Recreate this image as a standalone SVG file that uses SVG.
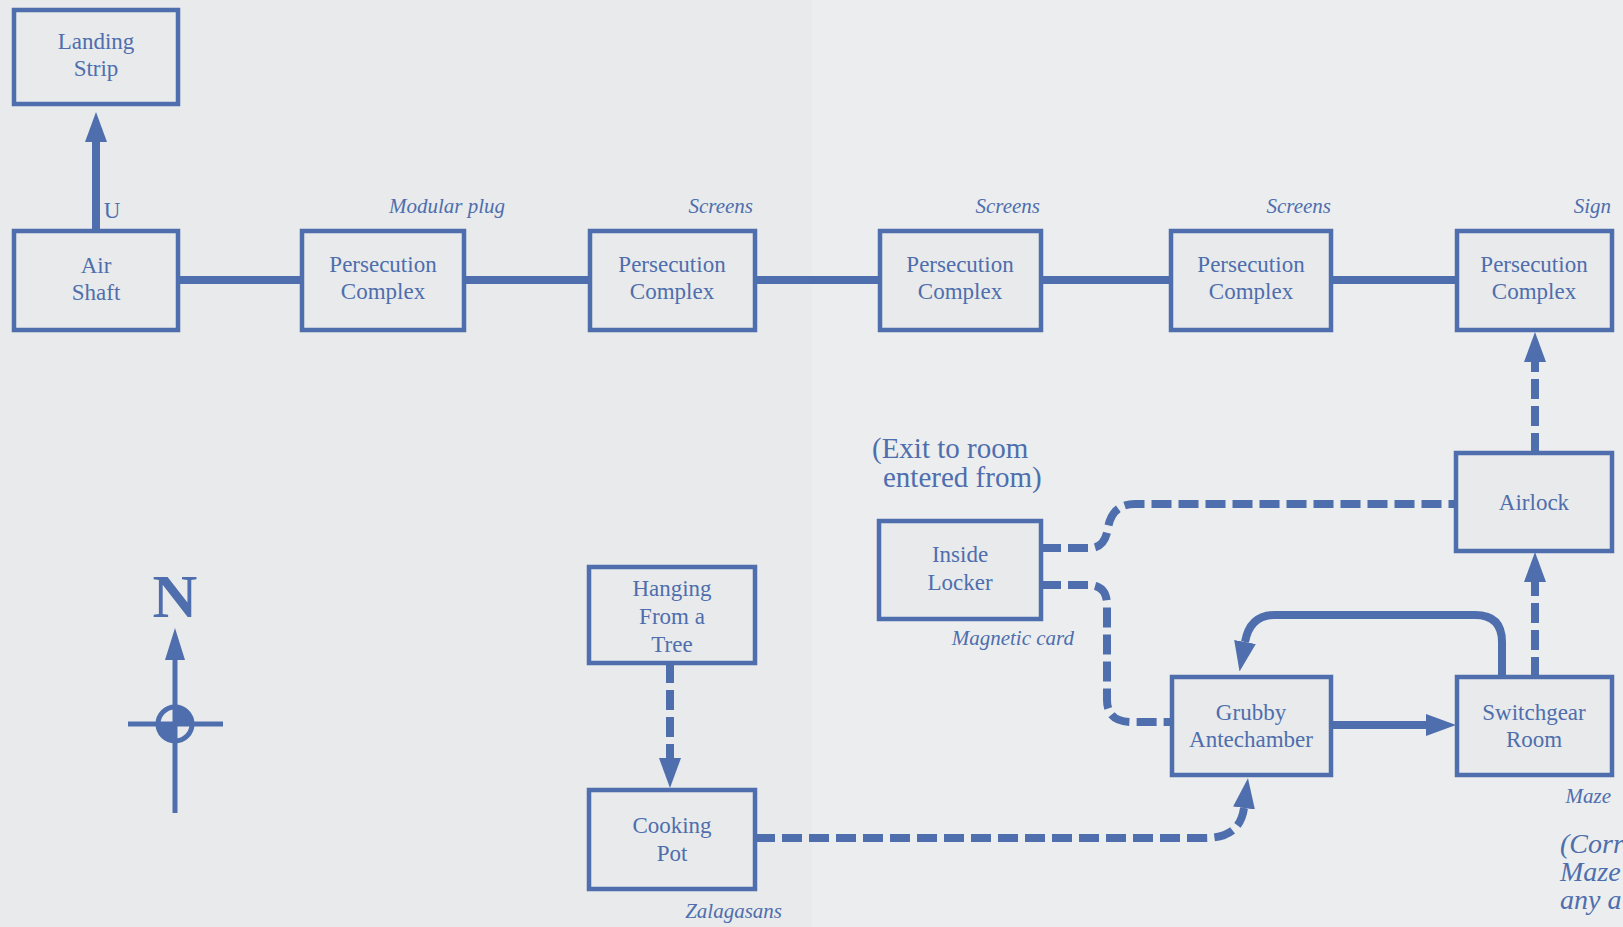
<svg xmlns="http://www.w3.org/2000/svg" width="1623" height="927" viewBox="0 0 1623 927">
<style>
.bx{fill:#e9eaeb;stroke:#4e6ead;stroke-width:4.5}
.t{font-family:"Liberation Serif","Times New Roman",serif;font-size:23px;fill:#4e6ead;text-anchor:middle}
.lb{font-family:"Liberation Serif","Times New Roman",serif;font-size:21px;font-style:italic;fill:#4e6ead;text-anchor:end}
.big{font-family:"Liberation Serif","Times New Roman",serif;font-size:29px;fill:#4e6ead}
.bigi{font-family:"Liberation Serif","Times New Roman",serif;font-size:28px;font-style:italic;fill:#4e6ead}
.s{fill:none;stroke:#4e6ead;stroke-width:8}
.d{fill:none;stroke:#4e6ead;stroke-width:8;stroke-dasharray:20 7}
</style>
<defs>
<marker id="arr" markerUnits="userSpaceOnUse" viewBox="0 0 30 22" refX="0" refY="11" markerWidth="30" markerHeight="22" orient="auto">
<path d="M0,0 L30,11 L0,22 Z" fill="#4e6ead"/>
</marker>
</defs>
<rect width="1623" height="927" fill="#e9eaeb"/>
<rect x="812" width="811" height="927" fill="#ecedee"/>

<g id="connectors">
<path class="s" d="M96,231 V142" marker-end="url(#arr)"/>
<path class="s" d="M178,280 H302 M464,280 H590 M755,280 H880 M1041,280 H1171 M1331,280 H1457"/>
<path class="d" d="M1535,453 V362" marker-end="url(#arr)"/>
<path class="d" d="M1535,677 V582" marker-end="url(#arr)"/>
<path class="d" d="M1041,548 H1090 Q1105,548 1108,528 Q1112,504 1135,504 H1456"/>
<path class="d" d="M1041,585 H1088 Q1107,585 1107,605 V700 Q1107,722 1132,722 H1172"/>
<path class="s" d="M1331,725 H1426" marker-end="url(#arr)"/>
<path class="s" d="M1502,677 V642 Q1502,615 1475,615 H1275 Q1250,615 1245,642" marker-end="url(#arr)"/>
<path class="d" d="M670,663 V758" marker-end="url(#arr)"/>
<path class="d" d="M755,838 H1205 Q1240,838 1244,808" marker-end="url(#arr)"/>
</g>

<g id="landing-strip"><rect class="bx" x="14" y="10" width="164" height="94"/><text class="t" x="96" y="49">Landing</text><text class="t" x="96" y="76">Strip</text></g>
<g id="air-shaft"><rect class="bx" x="14" y="231" width="164" height="99"/><text class="t" x="96" y="273">Air</text><text class="t" x="96" y="300">Shaft</text></g>
<g id="pc1"><rect class="bx" x="302" y="231" width="162" height="99"/><text class="t" x="383" y="272">Persecution</text><text class="t" x="383" y="299">Complex</text></g>
<g id="pc2"><rect class="bx" x="590" y="231" width="165" height="99"/><text class="t" x="672" y="272">Persecution</text><text class="t" x="672" y="299">Complex</text></g>
<g id="pc3"><rect class="bx" x="880" y="231" width="161" height="99"/><text class="t" x="960" y="272">Persecution</text><text class="t" x="960" y="299">Complex</text></g>
<g id="pc4"><rect class="bx" x="1171" y="231" width="160" height="99"/><text class="t" x="1251" y="272">Persecution</text><text class="t" x="1251" y="299">Complex</text></g>
<g id="pc5"><rect class="bx" x="1457" y="231" width="155" height="99"/><text class="t" x="1534" y="272">Persecution</text><text class="t" x="1534" y="299">Complex</text></g>
<g id="airlock"><rect class="bx" x="1456" y="453" width="156" height="98"/><text class="t" x="1534" y="510">Airlock</text></g>
<g id="inside-locker"><rect class="bx" x="879" y="521" width="162" height="98"/><text class="t" x="960" y="562">Inside</text><text class="t" x="960" y="590">Locker</text></g>
<g id="hanging"><rect class="bx" x="589" y="567" width="166" height="96"/><text class="t" x="672" y="596">Hanging</text><text class="t" x="672" y="624">From a</text><text class="t" x="672" y="652">Tree</text></g>
<g id="cooking-pot"><rect class="bx" x="589" y="790" width="166" height="99"/><text class="t" x="672" y="833">Cooking</text><text class="t" x="672" y="861">Pot</text></g>
<g id="grubby"><rect class="bx" x="1172" y="677" width="159" height="98"/><text class="t" x="1251" y="720">Grubby</text><text class="t" x="1251" y="747">Antechamber</text></g>
<g id="switchgear"><rect class="bx" x="1457" y="677" width="155" height="98"/><text class="t" x="1534" y="720">Switchgear</text><text class="t" x="1534" y="747">Room</text></g>

<g id="labels">
<text class="t" x="112" y="218">U</text>
<text class="lb" x="505" y="213">Modular plug</text>
<text class="lb" x="753" y="213">Screens</text>
<text class="lb" x="1040" y="213">Screens</text>
<text class="lb" x="1331" y="213">Screens</text>
<text class="lb" x="1611" y="213">Sign</text>
<text class="lb" x="1074" y="645">Magnetic card</text>
<text class="lb" x="782" y="918">Zalagasans</text>
<text class="lb" x="1611" y="803">Maze</text>
<text class="big" x="872" y="458">(Exit to room</text>
<text class="big" x="883" y="487">entered from)</text>
<text class="bigi" x="1560" y="853">(Corr</text>
<text class="bigi" x="1560" y="881">Maze</text>
<text class="bigi" x="1560" y="909">any a</text>
</g>

<g id="compass" fill="#4e6ead" stroke="#4e6ead">
<text x="175" y="617" stroke="none" style="font-family:'Liberation Serif','Times New Roman',serif;font-size:62px;font-weight:bold;text-anchor:middle">N</text>
<line x1="175" y1="655" x2="175" y2="813" stroke-width="5"/>
<polygon points="165,660 185,660 175,628" stroke="none"/>
<line x1="128" y1="724" x2="223" y2="724" stroke-width="5"/>
<circle cx="175" cy="724" r="17" fill="none" stroke-width="5"/>
<path d="M175,724 L175,707 A17,17 0 0 1 192,724 Z M175,724 L158,724 A17,17 0 0 0 175,741 Z" stroke="none"/>
</g>
</svg>
